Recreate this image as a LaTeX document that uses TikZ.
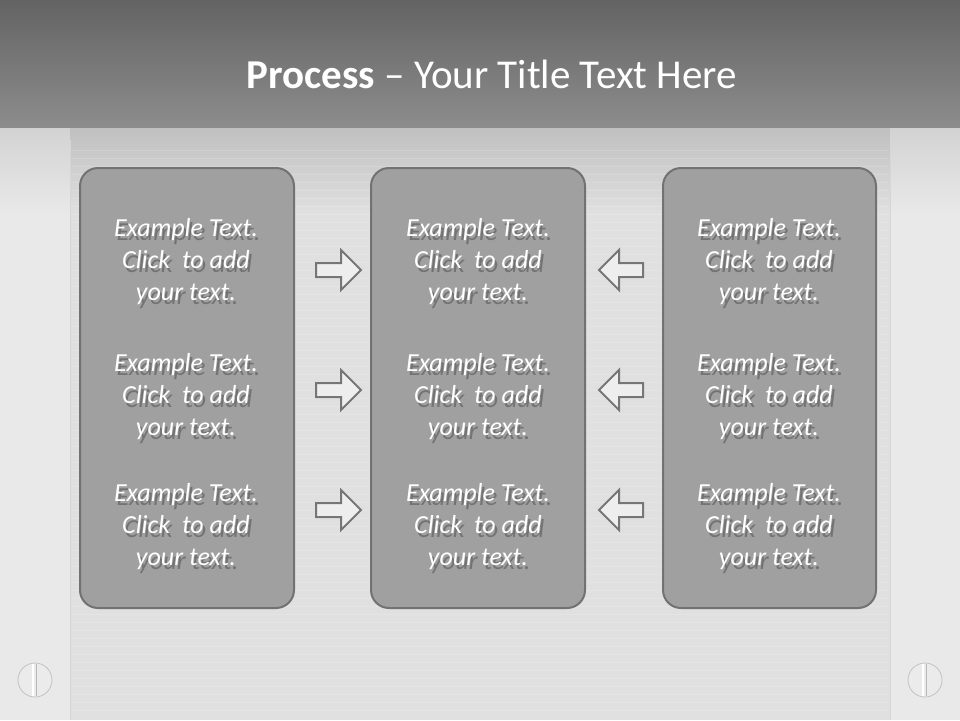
\documentclass[tikz,border=0pt]{standalone}
\usepackage{fontspec}
\setmainfont{Carlito}
\usetikzlibrary{shadings}
\definecolor{boxfill}{HTML}{A0A0A0}
\definecolor{boxline}{HTML}{727272}
\definecolor{arrowline}{HTML}{767676}
\definecolor{arrowfill}{HTML}{EEEEEE}
\tikzset{
  panel/.style={draw=boxline, line width=2pt, fill=boxfill, rounded corners=18pt},
  btxt/.style={text=white, font=\fontsize{26}{32}\selectfont\itshape, align=center},
  bshadow/.style={text=black, opacity=0.28, font=\fontsize{26}{32}\selectfont\itshape, align=center},
  arr/.style={draw=arrowline, line width=2pt, fill=arrowfill, line join=miter},
  screw/.style={draw=black!24, line width=0.8pt, fill=black!8},
}
\newcommand{\btext}[2]{%
  \node[bshadow] at ([shift={(2.5pt,-4pt)}]#1) {Example Text.\\Click\ \ to add\\your text.};
  \node[btxt] (#2) at (#1) {Example Text.\\Click\ \ to add\\your text.};}
\begin{document}
\begin{tikzpicture}[x=1pt,y=-1pt]
\useasboundingbox (0,0) rectangle (960,720);
% body background
\fill[black!12] (0,127) rectangle (960,720);
\shade[top color=black!25, bottom color=black!12] (0,127) rectangle (960,215);
\fill[white,opacity=0.3] (0,127) rectangle (70,720);
\fill[white,opacity=0.3] (890,127) rectangle (960,720);
\draw[black!16, line width=1pt] (70,140) -- (70,720);
\draw[black!16, line width=1pt] (890,140) -- (890,720);
% faint brushed lines
\foreach \yy in {150,158,...,715} {\draw[white,opacity=0.16,line width=0.6pt] (72,\yy) -- (888,\yy);}
% header
\shade[top color=black!61, bottom color=black!45] (0,0) rectangle (960,127);
\node[text=white, font=\fontsize{41}{48}\selectfont, anchor=center] (title) at (492,74) {\textbf{Process} – Your Title Text Here};
% panels
\draw[panel] (80,168) rectangle (294,608);
\draw[panel] (371,168) rectangle (585,608);
\draw[panel] (663,168) rectangle (876,608);
% texts
\foreach \c/\xx in {L/186,M/478,R/769} {
  \coordinate (a\c) at (\xx,262);
  \coordinate (b\c) at (\xx,397);
  \coordinate (c\c) at (\xx,527);
}
\btext{aL}{tL1}\btext{bL}{tL2}\btext{cL}{tL3}
\btext{aM}{tM1}\btext{bM}{tM2}\btext{cM}{tM3}
\btext{aR}{tR1}\btext{bR}{tR2}\btext{cR}{tR3}
% right arrows
\foreach \yy in {270,390,510} {
  \draw[arr] (316,\yy-7) -- (341,\yy-7) -- (341,\yy-20) -- (361,\yy) -- (341,\yy+20) -- (341,\yy+7) -- (316,\yy+7) -- cycle;
}
% left arrows
\foreach \yy in {270,390,510} {
  \draw[arr] (643,\yy-7) -- (619,\yy-7) -- (619,\yy-20) -- (599,\yy) -- (619,\yy+20) -- (619,\yy+7) -- (643,\yy+7) -- cycle;
}
% screws
\foreach \xx in {35,925} {
  \draw[screw] (\xx,680) circle (17);
  \draw[white, line width=1.5pt] (\xx-2,664) -- (\xx-2,696);
  \draw[black!28, line width=1.2pt] (\xx+1.5,664) -- (\xx+1.5,696);
}
\end{tikzpicture}
\end{document}
